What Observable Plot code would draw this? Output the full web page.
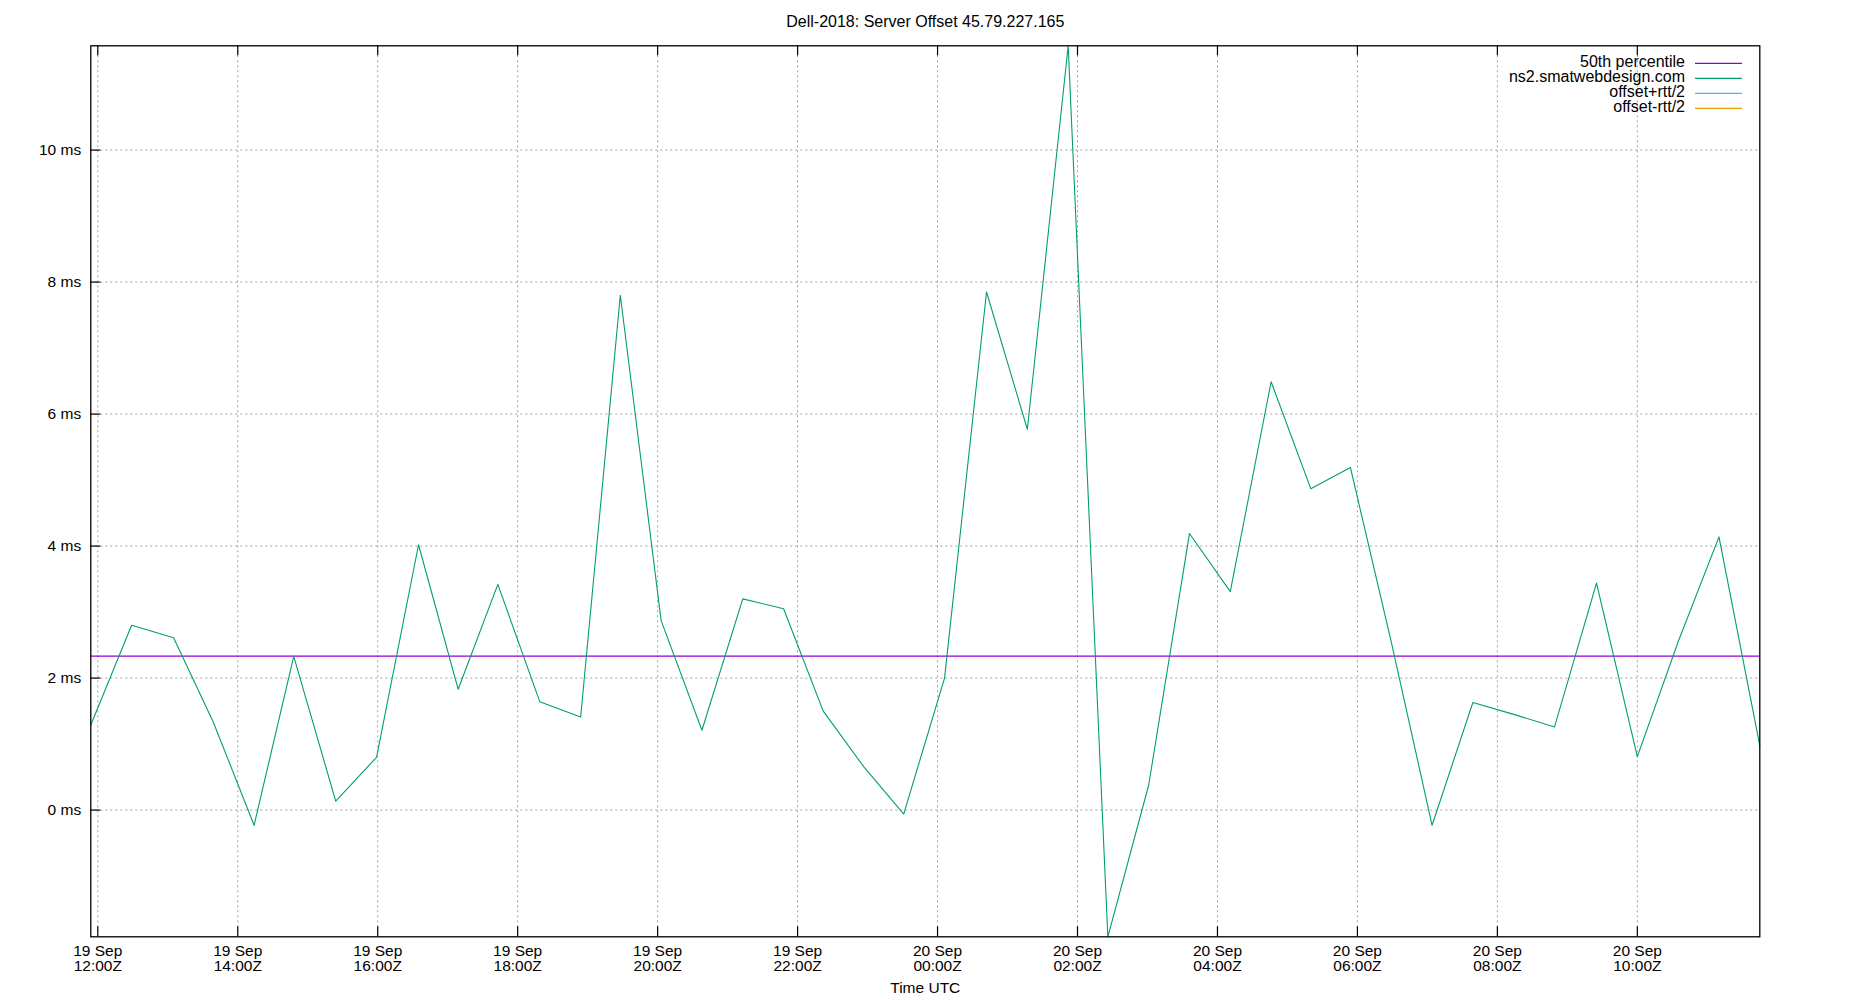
<!DOCTYPE html>
<html>
<head>
<meta charset="utf-8">
<script src="https://cdn.jsdelivr.net/npm/d3@7"></script>
<script src="https://cdn.jsdelivr.net/npm/@observablehq/plot@0.6"></script>
<style>
  html, body { margin: 0; padding: 0; background: #ffffff; }
  #chart { width: 1850px; height: 1000px; }
</style>
</head>
<body>
<div id="chart"></div>
<script>
// ---- data ----
const title = "Dell-2018: Server Offset 45.79.227.165";
const xLabel = "Time UTC";
const times = [
  "2018-09-19T11:54Z","2018-09-19T12:29Z","2018-09-19T13:05Z","2018-09-19T13:39Z","2018-09-19T14:14Z",
  "2018-09-19T14:48Z","2018-09-19T15:24Z","2018-09-19T15:59Z","2018-09-19T16:35Z","2018-09-19T17:09Z",
  "2018-09-19T17:43Z","2018-09-19T18:19Z","2018-09-19T18:54Z","2018-09-19T19:28Z","2018-09-19T20:03Z",
  "2018-09-19T20:38Z","2018-09-19T21:13Z","2018-09-19T21:48Z","2018-09-19T22:22Z","2018-09-19T22:57Z",
  "2018-09-19T23:31Z","2018-09-20T00:06Z","2018-09-20T00:42Z","2018-09-20T01:17Z","2018-09-20T01:52Z",
  "2018-09-20T02:26Z","2018-09-20T03:01Z","2018-09-20T03:36Z","2018-09-20T04:11Z","2018-09-20T04:46Z",
  "2018-09-20T05:20Z","2018-09-20T05:54Z","2018-09-20T06:29Z","2018-09-20T07:04Z","2018-09-20T07:39Z",
  "2018-09-20T08:14Z","2018-09-20T08:49Z","2018-09-20T09:25Z","2018-09-20T10:00Z","2018-09-20T10:35Z",
  "2018-09-20T11:10Z","2018-09-20T11:45Z"
];
const offsets = [
  1.29, 2.80, 2.61, 1.335, -0.23,
  2.33, 0.135, 0.80, 4.02, 1.83,
  3.42, 1.64, 1.41, 7.80, 2.87,
  1.21, 3.20, 3.05, 1.50, 0.65,
  -0.06, 2.00, 7.85, 5.77, 11.58,
  -1.92, 0.376, 4.19, 3.31, 6.49,
  4.87, 5.19, 2.55, -0.23, 1.63,
  1.45, 1.26, 3.44, 0.81, 2.55,
  4.14, 0.975
];
const median50 = 2.333;
const seriesNames = ["50th percentile", "ns2.smatwebdesign.com", "offset+rtt/2", "offset-rtt/2"];
const seriesColors = ["#9400d3", "#009e73", "#56b4e9", "#e69f00"];
const xTicks = [
  "2018-09-19T12:00Z","2018-09-19T14:00Z","2018-09-19T16:00Z","2018-09-19T18:00Z",
  "2018-09-19T20:00Z","2018-09-19T22:00Z","2018-09-20T00:00Z","2018-09-20T02:00Z",
  "2018-09-20T04:00Z","2018-09-20T06:00Z","2018-09-20T08:00Z","2018-09-20T10:00Z"
].map(s => new Date(s));
const yTicks = [0, 2, 4, 6, 8, 10];
const yDomain = [-1.92, 11.58];

// ---- build table ----
const data = times.map((t, i) => ({time: new Date(t), offset: offsets[i]}));

// ---- layout ----
const W = 1850, H = 1000;
const mL = 90.3, mR = 90.7, mT = 45.3, mB = 63.7;
const innerW = W - mL - mR, innerH = H - mT - mB;
const tickLen = 10;
const font = "'Liberation Sans', Arial, Helvetica, sans-serif";
const gridStyle = {stroke: "#a0a0a0", strokeOpacity: 1, strokeWidth: 1, strokeDasharray: "2,3"};

const fmtDay = d3.utcFormat("%-d %b");
const fmtTime = d3.utcFormat("%H:%MZ");

const chart = Plot.plot({
  width: W,
  height: H,
  marginLeft: mL,
  marginRight: mR,
  marginTop: mT,
  marginBottom: mB,
  style: {fontFamily: font, fontSize: "15.5px", background: "#ffffff", color: "#000000", overflow: "visible"},
  x: {type: "utc", domain: d3.extent(data, d => d.time)},
  y: {domain: yDomain},
  marks: [
    Plot.gridX(xTicks, {...gridStyle}),
    Plot.gridY(yTicks, {...gridStyle}),
    Plot.ruleY([median50], {stroke: seriesColors[0], strokeWidth: 1.3}),
    Plot.line(data, {x: "time", y: "offset", stroke: seriesColors[1], strokeWidth: 1.1}),
    // inward ticks: bottom, top (x) and left (y)
    Plot.tickX(xTicks, {x: d => d, insetTop: innerH - tickLen, stroke: "#000", strokeWidth: 1.2}),
    Plot.tickX(xTicks, {x: d => d, insetBottom: innerH - tickLen, stroke: "#000", strokeWidth: 1.2}),
    Plot.tickY(yTicks, {y: d => d, insetRight: innerW - tickLen, stroke: "#000", strokeWidth: 1.2}),
    Plot.frame({stroke: "#000", strokeWidth: 1.3}),
    Plot.axisX(xTicks, {
      anchor: "bottom", tickSize: 0, tickPadding: 8.4, label: null,
      tickFormat: d => fmtDay(d) + "\n" + fmtTime(d),
      lineHeight: 0.97, fontSize: 15.5, fill: "#000"
    }),
    Plot.axisY(yTicks, {
      anchor: "left", tickSize: 0, tickPadding: 9.6, label: null,
      tickFormat: d => `${d} ms`, fontSize: 15.5, fill: "#000"
    }),
    Plot.text([xLabel], {text: d => d, frameAnchor: "bottom", dy: 56.4, lineAnchor: "bottom", fontSize: 15.5, fill: "#000"}),
    Plot.text([title], {text: d => d, frameAnchor: "top", dy: -18.6, lineAnchor: "bottom", fontSize: 16, fill: "#000"})
  ]
});

// ---- legend (inside top-right of the frame) ----
const svg = d3.select(chart);
const legendRight = W - mR - 17.3;   // end of swatch
const swatchLen = 47;
const textGap = 10;
const rowH = 15;
const firstRow = mT + 18;
const lg = svg.append("g").attr("font-family", font).attr("font-size", 16).attr("fill", "#000");
seriesNames.forEach((name, i) => {
  const y = firstRow + i * rowH;
  lg.append("text")
    .attr("x", legendRight - swatchLen - textGap)
    .attr("y", y)
    .attr("dy", "0.22em")
    .attr("text-anchor", "end")
    .text(name);
  lg.append("line")
    .attr("x1", legendRight - swatchLen).attr("x2", legendRight)
    .attr("y1", y).attr("y2", y)
    .attr("stroke", seriesColors[i]).attr("stroke-width", 1.2);
});

document.getElementById("chart").appendChild(chart);
</script>
</body>
</html>
